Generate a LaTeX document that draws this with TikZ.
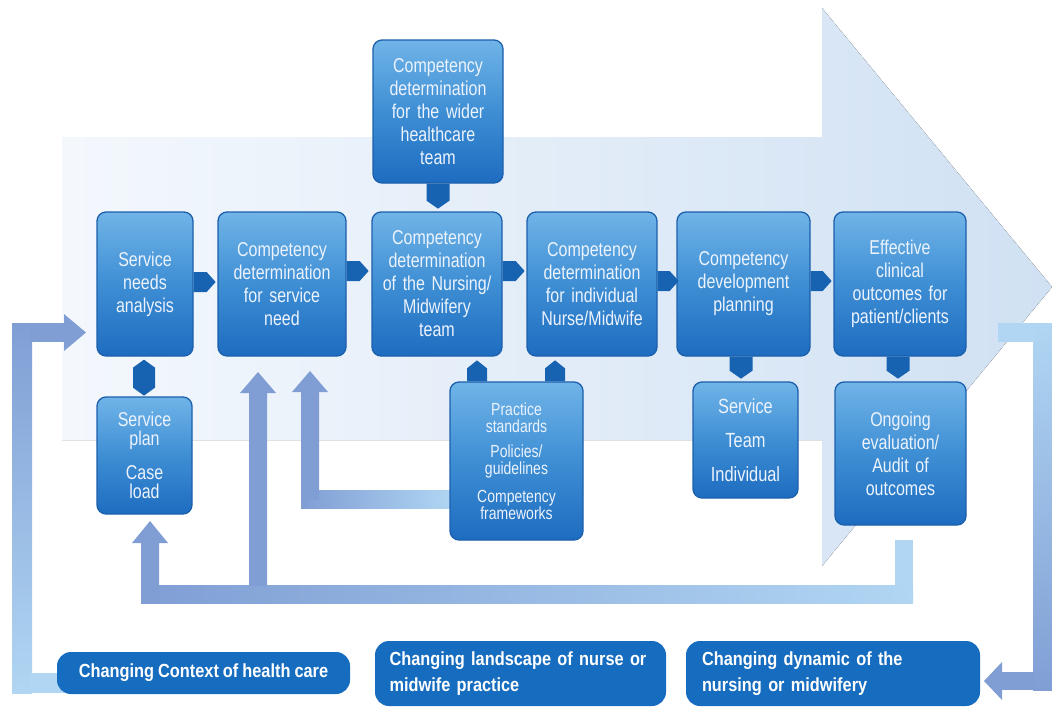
\documentclass[tikz,border=0pt]{standalone}
\usepackage{fontspec}
\setmainfont{Liberation Sans}[FakeStretch=0.8]
\newfontfamily\lblfont{Liberation Sans}[FakeStretch=0.86]
\usetikzlibrary{calc}
\newcommand\boxsp{\spaceskip=3.6pt plus 1pt minus 1pt\relax}
\newcommand\lblsp{\spaceskip=4pt plus 1pt minus 1pt\relax}
\definecolor{boxtop}{RGB}{112,180,232}
\definecolor{boxmid}{RGB}{62,142,212}
\definecolor{boxbot}{RGB}{30,108,192}
\definecolor{boxedge}{RGB}{28,96,172}
\definecolor{conn}{RGB}{24,98,178}
\definecolor{fbdark}{RGB}{128,158,212}
\definecolor{fblight}{RGB}{176,214,243}
\definecolor{bgleft}{RGB}{244,248,253}
\definecolor{bgright}{RGB}{208,225,243}
\definecolor{lblfill}{RGB}{22,108,190}
\definecolor{boxtext}{RGB}{236,243,252}
\begin{document}
\begin{tikzpicture}[x=1pt,y=-1pt,
  box/.style={draw=boxedge, line width=1.3pt, rounded corners=9pt,
    top color=boxtop, bottom color=boxbot, middle color=boxmid,
    text=boxtext, align=center, inner sep=0pt,
    font=\fontsize{20}{23}\selectfont\boxsp},
  lbl/.style={fill=lblfill, rounded corners=14pt, text=white, inner sep=0pt,
    font=\lblfont\bfseries\fontsize{19}{26}\selectfont\lblsp},
  conn/.style={fill=conn},
  fbd/.style={fill=fbdark},
  fbl/.style={fill=fblight}]
\useasboundingbox (0,0) rectangle (1052,707);
\fill[white] (0,0) rectangle (1052,707);
% big background arrow
\fill[left color=bgleft, right color=bgright] (62,137) -- (822,137) -- (822,8) -- (1052,287) -- (822,566) -- (822,440) -- (62,440) -- cycle;

% feedback arrows (inner loop)
\fill[fbl] (895,540) rectangle (913,603);
\fill[left color=fbdark, right color=fblight] (141,585) rectangle (913,603);
\fill[fbd] (141,603) -- (141,543) -- (132,543) -- (150,521) -- (168,543) -- (159,543) -- (159,603) -- cycle;
\fill[fbd] (249,586) -- (249,393) -- (240,393) -- (258,372) -- (276,393) -- (267,393) -- (267,586) -- cycle;
% practice -> service need
\fill[left color=fbdark, right color=fblight] (301,490) rectangle (452,508);
\fill[fbd] (301,500) -- (301,392) -- (292,392) -- (310,371) -- (328,392) -- (319,392) -- (319,500) -- cycle;
% outer left loop
\fill[top color=fbdark, bottom color=fblight] (12,323) rectangle (32,693);
\fill[fbd] (30,323) rectangle (65,342);
\fill[fbd] (64,314) -- (86,332.5) -- (64,351) -- cycle;
\fill[fbl] (30,673) rectangle (80,693);
% outer right loop
\fill[top color=fblight, bottom color=fbdark] (1033,323) rectangle (1052,690);
\fill[fbl] (998,323) rectangle (1035,342);
\fill[fbd] (1001,672) rectangle (1035,690);
\fill[fbd] (1002,662) -- (984,681) -- (1002,700) -- cycle;

% boxes
\node[box, minimum width=130pt, minimum height=143pt, text width=124pt] (top) at (438,111.5)
  {Competency\\determination\\for the wider\\healthcare\\team};
\node[box, minimum width=96pt, minimum height=144pt, text width=90pt] (b1) at (145,284)
  {Service\\needs\\analysis};
\node[box, minimum width=128pt, minimum height=144pt, text width=122pt] (b2) at (282,284)
  {Competency\\determination\\for service\\need};
\node[box, minimum width=130pt, minimum height=144pt, text width=124pt] (b3) at (437,284)
  {Competency\\determination\\of the Nursing/\\Midwifery\\team};
\node[box, minimum width=130pt, minimum height=144pt, text width=124pt] (b4) at (592,284)
  {Competency\\determination\\for individual\\Nurse/Midwife};
\node[box, minimum width=133pt, minimum height=144pt, text width=127pt] (b5) at (743.5,284)
  {Competency\\development\\planning};
\node[box, minimum width=132pt, minimum height=144pt, text width=126pt] (b6) at (900,284)
  {Effective\\clinical\\outcomes for\\patient/clients};
\node[box, minimum width=95pt, minimum height=117pt, text width=89pt,
  font=\fontsize{20}{19}\selectfont\boxsp] (plan) at (144.5,455.5)
  {Service\\plan\\[15pt]Case\\load};
\node[box, minimum width=133pt, minimum height=158pt, text width=127pt,
  font=\fontsize{17.5}{16.5}\selectfont\boxsp] (prac) at (516.5,461)
  {Practice\\standards\\[9pt]Policies/\\guidelines\\[12pt]Competency\\frameworks};
\node[box, minimum width=105pt, minimum height=116pt, text width=99pt,
  font=\fontsize{20.5}{34}\selectfont\boxsp] (stm) at (745.5,440)
  {Service\\Team\\Individual};
\node[box, minimum width=131pt, minimum height=143pt, text width=125pt] (ongo) at (900.5,453.5)
  {Ongoing\\evaluation/\\Audit of\\outcomes};

% bottom labels
\node[lbl, minimum width=293pt, minimum height=42pt] (ctx) at (203.5,673)
  {Changing Context of health care};
\node[lbl, minimum width=291pt, minimum height=65pt, text width=262pt, align=left] (land) at (520.5,673.5)
  {Changing landscape of nurse or\\midwife practice};
\node[lbl, minimum width=294pt, minimum height=65pt, text width=262pt, align=left] (dyn) at (833,673.5)
  {Changing dynamic of the\\nursing or midwifery};

% small connectors
\fill[conn] ($(b1.east)+(0,-12)$) -- ++(13,0) -- ++(9,10) -- ++(-9,10) -- ++(-13,0) -- cycle;
\fill[conn] ($(b2.east)+(0,-23)$) -- ++(13,0) -- ++(9,10) -- ++(-9,10) -- ++(-13,0) -- cycle;
\fill[conn] ($(b3.east)+(0,-23)$) -- ++(13,0) -- ++(9,10) -- ++(-9,10) -- ++(-13,0) -- cycle;
\fill[conn] ($(b4.east)+(0,-13)$) -- ++(12,0) -- ++(9,10) -- ++(-9,10) -- ++(-12,0) -- cycle;
\fill[conn] ($(b5.east)+(0,-13)$) -- ++(12,0) -- ++(9,10) -- ++(-9,10) -- ++(-12,0) -- cycle;
\fill[conn] ($(top.south)+(-11.5,0)$) -- ++(23,0) -- ++(0,17) -- ++(-11.5,8) -- ++(-11.5,-8) -- cycle;
\fill[conn] ($(b1.south)+(-1,3)$) -- ++(11,8) -- ++(0,20) -- ++(-11,8) -- ++(-11,-8) -- ++(0,-20) -- cycle;
\fill[conn] ($(prac.north)+(-49.5,0)$) -- ++(0,-13) -- ++(10,-8) -- ++(10,8) -- ++(0,13) -- cycle;
\fill[conn] ($(prac.north)+(28.5,0)$) -- ++(0,-13) -- ++(10,-8) -- ++(10,8) -- ++(0,13) -- cycle;
\fill[conn] ($(b5.south)+(-14,0)$) -- ++(23,0) -- ++(0,14) -- ++(-11.5,8) -- ++(-11.5,-8) -- cycle;
\fill[conn] ($(b6.south)+(-13.5,0)$) -- ++(23,0) -- ++(0,14) -- ++(-11.5,8) -- ++(-11.5,-8) -- cycle;
\end{tikzpicture}
\end{document}
